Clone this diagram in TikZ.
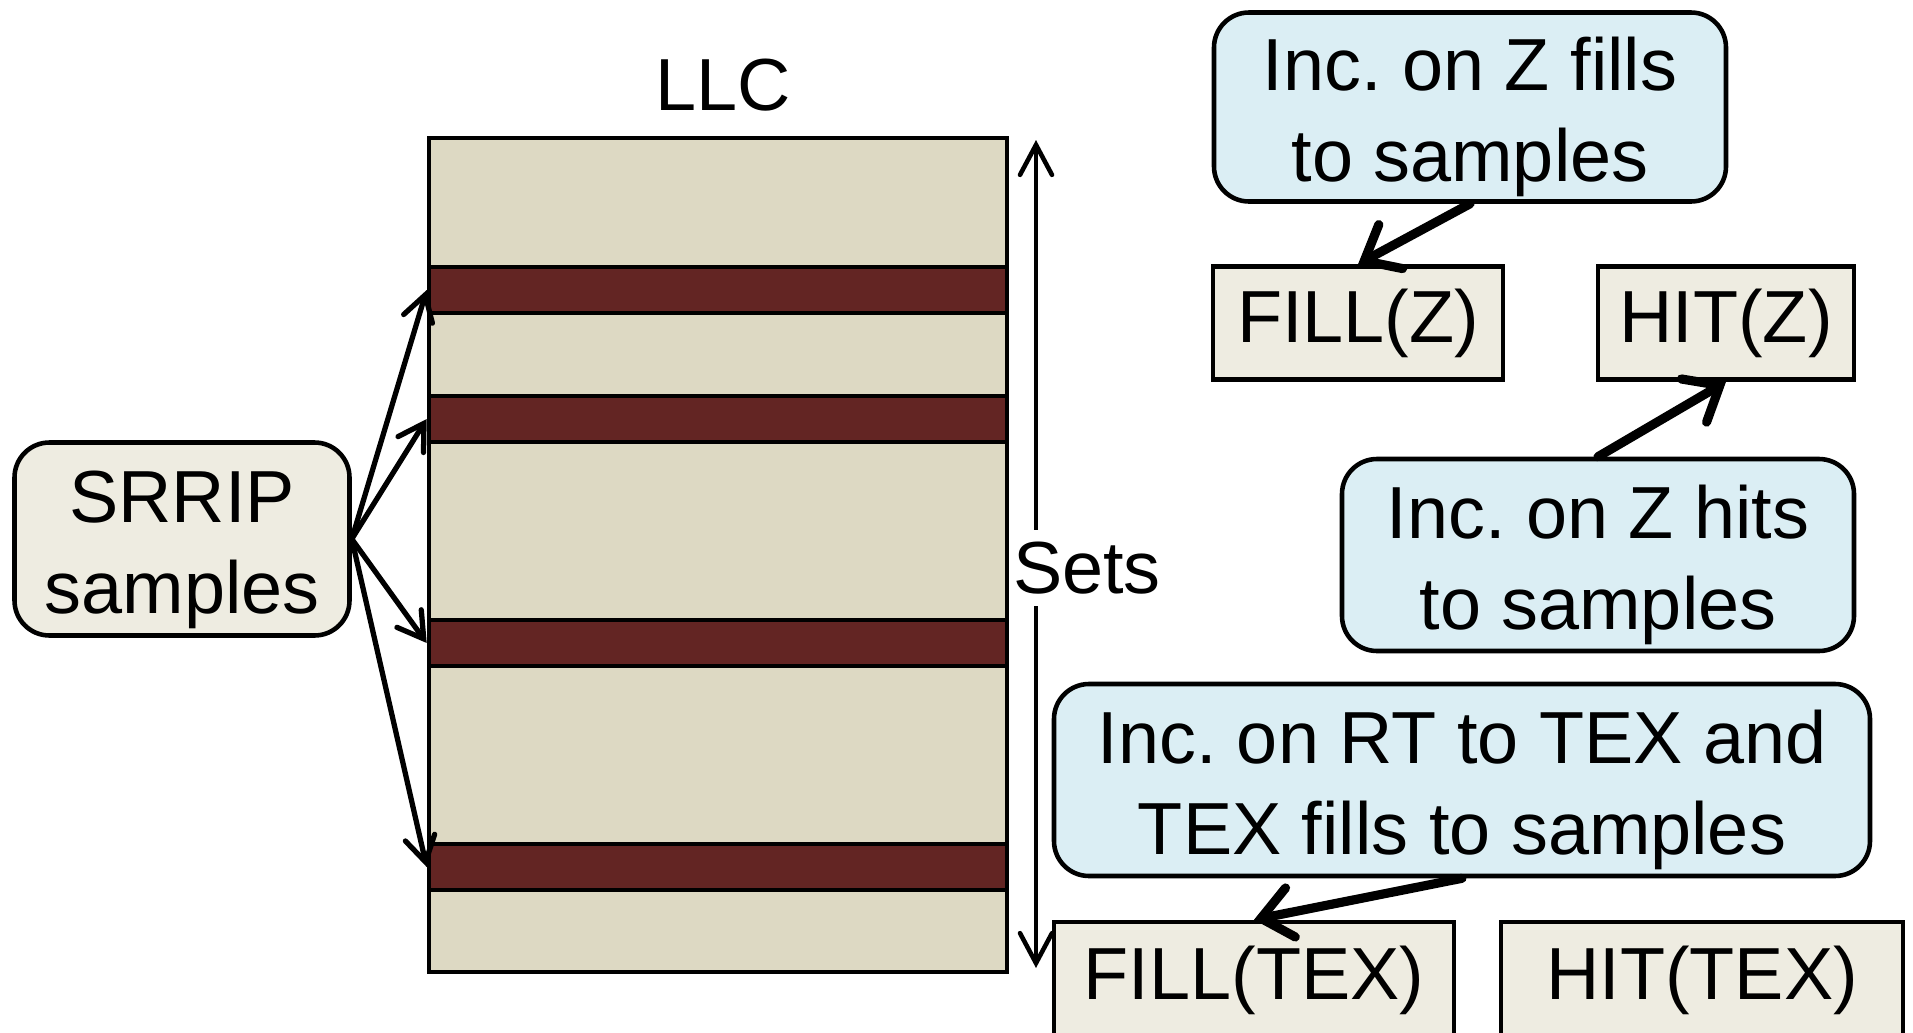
\documentclass[tikz,border=0pt]{standalone}
\usepackage{fontspec}
\setmainfont{Liberation Sans}
\frenchspacing
\usepackage{tikz}
\usetikzlibrary{arrows.meta,positioning}
\definecolor{llcfill}{HTML}{DDD9C3}
\definecolor{setband}{HTML}{632523}
\definecolor{tanbox}{HTML}{EEECE1}
\definecolor{aquabox}{HTML}{DBEEF4}
\newcommand{\topstrut}{\rule{0pt}{1em}}

\tikzset{
    cntbox/.style={rectangle, draw, line width=1.3pt, fill=tanbox, inner sep=0pt},
    incbox/.style={rectangle, rounded corners=0.35cm, draw, line width=1.3pt, fill=aquabox, align=center, inner sep=0pt},
    bandbox/.style={rectangle, draw, line width=1.3pt, fill=setband, minimum width=5.78cm, minimum height=0.46cm, inner sep=0pt},
    thinarrow/.style={-{Straight Barb[length=0.25cm, width=0.3cm, line cap=round]}, line width=1.5pt, line cap=round},
    thickarrow/.style={-{Straight Barb[length=0.3cm, width=0.5cm, line cap=round]}, line width=2.6pt, line cap=round}
}

\begin{document}
\begin{tikzpicture}[font=\fontsize{21}{26}\selectfont]
    \useasboundingbox (0,0) rectangle (19.13,-10.33);

    % cache with the sampled sets
    \node[draw, line width=1.3pt, fill=llcfill, minimum width=5.78cm, minimum height=8.34cm, inner sep=0pt] (llc) at (7.18,-5.55) {};
    \node (llclabel) at (7.23,-0.85) {LLC};
    \node[bandbox] (band1) at (7.18,-2.90) {};
    \node[bandbox] (band2) at (7.18,-4.19) {};
    \node[bandbox] (band3) at (7.18,-6.43) {};
    \node[bandbox] (band4) at (7.18,-8.67) {};

    \coordinate (setstop) at (10.36,-1.40);
    \coordinate (setsbot) at (10.36,-9.68);
    \draw[{Straight Barb[length=0.3cm, width=0.32cm, line cap=round]}-{Straight Barb[length=0.3cm, width=0.32cm, line cap=round]}, line width=1.3pt] (setstop) -- (setsbot);
    \node[fill=white, inner xsep=0pt, inner ysep=0.12cm] (sets) at (10.87,-5.68) {Sets};

    \node[cntbox, rounded corners=0.35cm, align=center, minimum width=3.35cm, minimum height=1.93cm] (srrip) at (1.82,-5.39) {\topstrut SRRIP\\samples};
    \foreach \b in {1,...,4}
        \draw[thinarrow] (srrip.east) -- (band\b.west);

    % counters
    \node[incbox, minimum width=5.12cm, minimum height=1.89cm] (zfills) at (14.70,-1.07) {\topstrut Inc. on Z fills\\to samples};
    \node[cntbox, minimum width=2.90cm, minimum height=1.13cm] (fillz) at (13.58,-3.23) {FILL(Z)};
    \node[cntbox, minimum width=2.56cm, minimum height=1.13cm] (hitz) at (17.26,-3.23) {HIT(Z)};
    \node[incbox, minimum width=5.12cm, minimum height=1.92cm] (zhits) at (15.98,-5.55) {\topstrut Inc. on Z hits\\to samples};
    \node[incbox, minimum width=8.16cm, minimum height=1.92cm] (texinc) at (14.62,-7.80) {\topstrut Inc. on RT to TEX and\\TEX fills to samples};
    \node[cntbox, minimum width=4.00cm, minimum height=1.16cm] (filltex) at (12.54,-9.80) {FILL(TEX)};
    \node[cntbox, minimum width=4.02cm, minimum height=1.16cm] (hittex) at (17.02,-9.80) {HIT(TEX)};

    \draw[thickarrow] (zfills.south) -- (fillz.north);
    \draw[thickarrow] (zhits.north) -- (hitz.south);
    \draw[thickarrow] (texinc.south) -- (filltex.north);
\end{tikzpicture}
\end{document}
